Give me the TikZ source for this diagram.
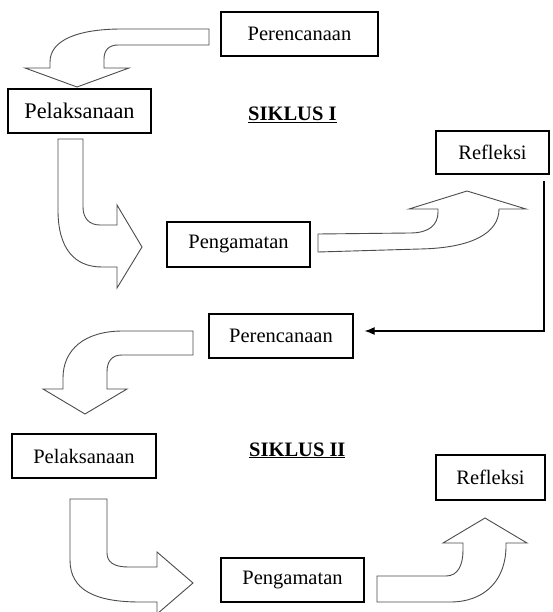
\documentclass[tikz,border=0pt]{standalone}
\usepackage{fontspec}
\setmainfont{Liberation Serif}
\usetikzlibrary{arrows.meta}
\begin{document}
\begin{tikzpicture}[x=1pt,y=-1pt,
  stagebox/.style={draw=black,line width=1.2pt,inner sep=0pt,minimum height=44pt,font=\fontsize{20.5}{24}\selectfont},
  blockarrow/.style={draw=black!70,line width=0.9pt,fill=white,line join=miter},
  cyclelabel/.style={anchor=base west,inner sep=0pt,font=\fontsize{20.5}{24}\selectfont\bfseries},
  link/.style={line width=1.2pt,-{Latex[length=10pt,width=8pt]}}]
\useasboundingbox (0,0) rectangle (552,612);
\fill[white] (0,0) rectangle (552,612);

% boxes
\node[stagebox,minimum width=157pt] (per1) at (299.5,34) {Perencanaan};
\node[stagebox,minimum width=143pt,font=\fontsize{22.3}{26}\selectfont] (pel1) at (79.5,111) {Pelaksanaan};
\node[stagebox,minimum width=113pt,minimum height=43pt] (refl1) at (492.5,152.5) {Refleksi};
\node[stagebox,minimum width=143pt,minimum height=45pt] (peng1) at (238.5,244.5) {Pengamatan};
\node[stagebox,minimum width=144pt] (per2) at (281,336) {Perencanaan};
\node[stagebox,minimum width=144pt] (pel2) at (84,456) {Pelaksanaan};
\node[stagebox,minimum width=109pt,minimum height=45pt] (refl2) at (490.5,477.5) {Refleksi};
\node[stagebox,minimum width=143pt] (peng2) at (292.5,580) {Pengamatan};

\node[cyclelabel] (sik1) at (248,121) {\underline{SIKLUS I}};
\node[cyclelabel] (sik2) at (249,456) {\underline{SIKLUS II}};

% block arrows
% Perencanaan -> Pelaksanaan (cycle I)
\draw[blockarrow] (209,29) -- (122,29) .. controls (78,29) and (50,40) .. (50,62) -- (50,68)
  -- (25,68) -- (77,87) -- (129,68) -- (104,68) -- (104,59)
  .. controls (104,50) and (109,45) .. (118,45) -- (209,45) -- cycle;
% Pelaksanaan -> Pengamatan (cycle I)
\draw[blockarrow] (58,139) -- (83,139) -- (83,207) .. controls (83,218) and (89,225) .. (100,225)
  -- (117,225) -- (117,205) -- (142,247) -- (117,288) -- (117,267) -- (102,267)
  .. controls (74,267) and (58,248) .. (58,210) -- cycle;
% Pengamatan -> Refleksi (cycle I)
\draw[blockarrow] (318,234) -- (410,233) .. controls (429,233) and (438,225) .. (438,212) -- (438,209)
  -- (409,209) -- (467,191) -- (526,209) -- (499,209)
  .. controls (499,233) and (472,248) .. (420,249) -- (318,252) -- cycle;
% Perencanaan -> Pelaksanaan (cycle II)
\draw[blockarrow] (193,331) -- (123,331) .. controls (84,331) and (63,350) .. (63,378) -- (63,389)
  -- (43,389) -- (85,414) -- (127,389) -- (107,389) -- (107,372)
  .. controls (107,361) and (112,355) .. (122,355) -- (193,355) -- cycle;
% Pelaksanaan -> Pengamatan (cycle II)
\draw[blockarrow] (70,499) -- (107,499) -- (107,553) .. controls (107,562) and (114,567) .. (128,567)
  -- (157,567) -- (157,552) -- (193,583) -- (157,614) -- (157,602) -- (140,602)
  .. controls (95,602) and (70,590) .. (70,560) -- cycle;
% Pengamatan -> Refleksi (cycle II)
\draw[blockarrow] (377,576) -- (446,576) .. controls (458,576) and (463,565) .. (463,550) -- (463,543)
  -- (443,543) -- (485,518) -- (527,543) -- (506,543) -- (506,546)
  .. controls (506,580) and (485,602) .. (450,602) -- (377,602) -- cycle;

% feedback connector
\coordinate (fb) at (544,181);
\draw[link,shorten >=11pt] (fb) |- ([yshift=5pt]per2.east);
\end{tikzpicture}
\end{document}
